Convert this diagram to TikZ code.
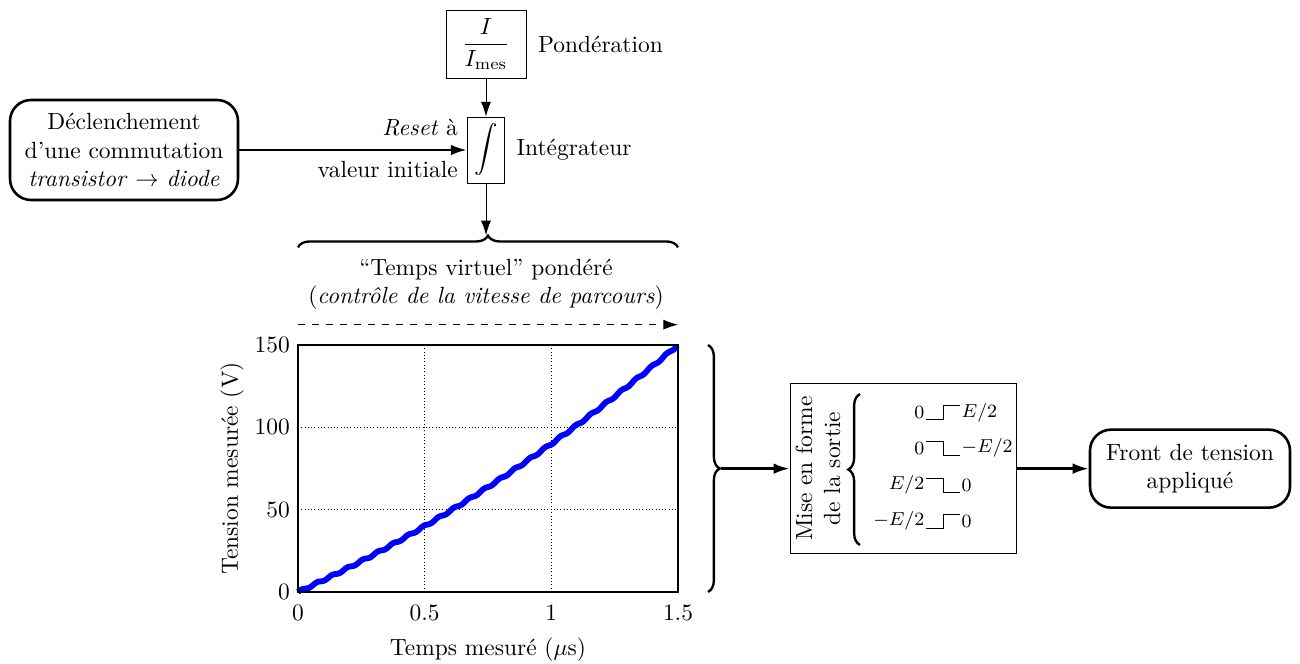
\documentclass[tikz,border=0pt]{standalone}
\usepackage{amsmath}
\usetikzlibrary{calc, arrows.meta, positioning, decorations.pathreplacing}

\begin{document}
\begin{tikzpicture}[
        bloc/.style={draw, thin, align=center},
        arrondi/.style={draw, line width=1.1pt, rounded corners=9pt, align=center},
        fleche/.style={-{Latex[length=2.4mm, width=1.6mm]}, line width=1.1pt},
        flechefine/.style={-{Latex[length=2.2mm, width=1.5mm]}},
        accolade/.style={decorate, decoration={brace, amplitude=5pt}, line width=1pt}
    ]

        \useasboundingbox (0,0) rectangle (19.5,9.96);

        % ==========================================
        % EN HAUT: commande de l'integrateur
        % ==========================================

        \node[arrondi, minimum width=3.42cm, minimum height=1.5cm] (declench) at (1.86,7.71)
            {Déclenchement\\d'une commutation\\\emph{transistor} $\rightarrow$ \emph{diode}};

        \node[bloc, minimum width=0.56cm, minimum height=0.99cm, inner sep=1pt] (integ) at (7.29,7.71) {$\displaystyle\int$};
        \node[bloc, minimum width=1.2cm, minimum height=1.02cm, inner sep=1pt] (poids) at (7.29,9.30) {$\dfrac{I}{I_{\text{mes}}}$};

        \node[right=0.05cm of poids] (pond) {Pondération};
        \node[right=0.05cm of integ] (integlbl) {Intégrateur};

        \draw[flechefine] (poids) -- (integ);
        \draw[fleche] (declench) -- (integ)
            node[pos=1, above left, yshift=2pt] (reset) {\emph{Reset} à}
            node[pos=1, below left, yshift=-1pt] (valinit) {valeur initiale};

        % accolade du temps virtuel
        \coordinate (pointe) at (7.29,6.43);
        \draw[flechefine] (integ) -- (pointe);
        \draw[accolade] (4.47,6.25) -- (10.17,6.25);

        \node[align=center] (tempsvirt) at (7.29,5.70)
            {``Temps virtuel'' pondéré\\(\emph{contrôle de la vitesse de parcours})};

        \coordinate (vdeb) at (4.47,5.09);
        \coordinate (vfin) at (10.17,5.09);
        \draw[dashed, -{Latex[length=2.2mm, width=1.5mm]}] (vdeb) -- (vfin);

        % ==========================================
        % CENTRE: tension mesuree
        % ==========================================

        \begin{scope}[shift={(4.47,1.08)}, x=3.8cm, y=0.0247cm]
            \draw[densely dotted, thin] (0.5,0) -- (0.5,150) (1,0) -- (1,150)
                (0,50) -- (1.5,50) (0,100) -- (1.5,100);
            \draw[blue, line width=2.5pt, line join=round]
                plot[domain=0:1.5, samples=200] (\x, {70*\x+20*\x*\x+0.6*sin(\x*6000)});
            \draw[semithick] (0,0) rectangle (1.5,150);
            \foreach \t [count=\i] in {0,0.5,1,1.5}
                \node[below, yshift=-2pt] (tx\i) at (\t,0) {$\t$};
            \foreach \v [count=\i] in {0,50,100,150}
                \node[left] (ty\i) at (0,\v) {$\v$};
            \node (xlab) at (0.75,-35) {Temps mesuré ($\mu$s)};
            \node[rotate=90] (ylab) at (-0.26,75) {Tension mesurée (V)};
        \end{scope}

        \draw[accolade] (10.62,4.785) -- (10.62,1.08);
        \coordinate (pointed) at (10.82,2.93);

        % ==========================================
        % A DROITE: mise en forme et front applique
        % ==========================================

        \node[bloc, minimum width=3.4cm, minimum height=2.55cm] (mise) at (13.55,2.93) {};
        \node[rotate=90, align=center, inner sep=1pt] (misetxt) at (12.27,2.93) {Mise en forme\\de la sortie};
        \draw[accolade] (12.90,1.785) -- (12.90,4.05);

        \foreach \yy/\s/\ga/\dr [count=\i] in {3.77/1/{0}/{E/2}, 3.24/-1/{0}/{-E/2},
                2.685/-1/{E/2}/{0}, 2.145/1/{-E/2}/{0}} {
            \draw ({13.89},{\yy-\s*0.105}) -- ({14.145},{\yy-\s*0.105})
                -- ({14.145},{\yy+\s*0.105}) -- ({14.40},{\yy+\s*0.105});
            \node[anchor=east, font=\footnotesize, inner sep=0.5pt] (g\i) at (13.89,\yy) {$\ga$};
            \node[anchor=west, font=\footnotesize, inner sep=0.5pt] (d\i) at (14.40,\yy) {$\dr$};
        }

        \node[arrondi, minimum width=3.0cm, minimum height=1.17cm] (front) at (17.85,2.93)
            {Front de tension\\appliqué};

        \draw[fleche] (pointed) -- (pointed -| mise.west);
        \draw[fleche] (mise) -- (front);

\end{tikzpicture}
\end{document}
